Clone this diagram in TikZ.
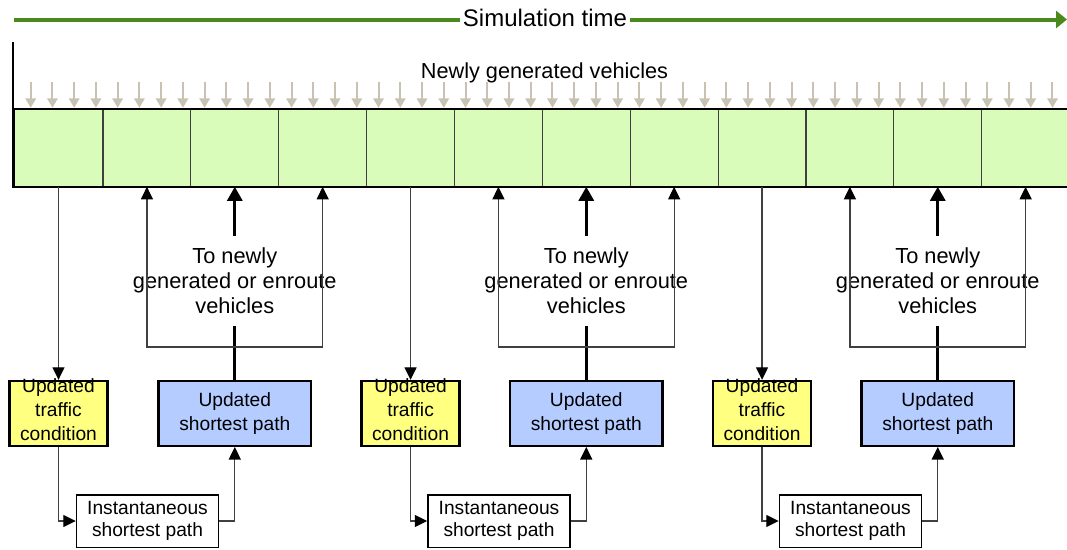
\documentclass[tikz,border=0pt]{standalone}
\usepackage{fontspec}
\setmainfont{Liberation Sans}
\usetikzlibrary{arrows.meta}

\definecolor{timegreen}{RGB}{74,138,28}
\definecolor{stripgreen}{RGB}{218,252,186}
\definecolor{condyellow}{RGB}{255,255,128}
\definecolor{pathblue}{RGB}{180,204,255}
\definecolor{arrowbeige}{RGB}{200,194,178}

\begin{document}
\begin{tikzpicture}[x=1pt,y=-1pt,
  cell/.style={fill=stripgreen, draw=black!75, line width=1.2pt, inner sep=0pt,
    minimum height=76.7pt},
  condbox/.style={fill=condyellow, draw=black, line width=2.4pt, inner sep=0pt,
    minimum width=98pt, minimum height=65pt},
  condtext/.style={inner sep=0pt, align=center,
    font=\fontsize{19.2}{24.3}\selectfont},
  spbox/.style={fill=pathblue, draw=black, line width=2.4pt, inner sep=0pt,
    minimum width=152.6pt, minimum height=64.6pt, align=center,
    font=\fontsize{19.2}{23.5}\selectfont},
  instbox/.style={fill=white, draw=black, line width=1.5pt, inner sep=0pt,
    minimum width=142pt, minimum height=52.5pt, align=center,
    font=\fontsize{19.2}{22.5}\selectfont},
  tolabel/.style={inner xsep=0pt, inner ysep=11.6pt, align=center,
    font=\fontsize{21.8}{25}\selectfont},
  thinarrow/.style={draw=black!75, line width=1.3pt,
    -{Triangle[width=12pt,length=12.5pt,color=black]}},
  thickline/.style={draw=black, line width=3pt},
  thickarrow/.style={draw=black, line width=3pt,
    -{Triangle[width=15pt,length=14pt]}},
  newarrow/.style={draw=arrowbeige, line width=2pt,
    -{Triangle[width=10.5pt,length=9.5pt]}},
  timeline/.style={draw=timegreen, line width=4pt,
    -{Triangle[width=17pt,length=11pt]}}
]
\useasboundingbox (0,0) rectangle (1067,549);
\clip (0,0) rectangle (1067,549);

% simulation time axis
\coordinate (tstart) at (14,19.5);
\coordinate (tend) at (1067,19.5);
\draw[timeline] (tstart) -- (tend);
\node[fill=white, inner xsep=3pt, inner ysep=2pt, anchor=base,
  font=\fontsize{24}{28}\selectfont] (simtime) at (545,26.7) {Simulation time};

% time-step strip
\node[cell, minimum width=89pt] (c1) at (58.5,147.85) {};
\foreach \k in {2,...,12}
  \node[cell, minimum width=87.87pt] (c\k) at ({103+87.87*(\k-2)+43.935},147.85) {};
\draw[line width=2.5pt, line cap=rect] (c12.north east) -- (c1.north west)
  -- (c1.south west) -- (c12.south east);
\draw[line width=2pt] (c1.north west) -- ++(0,-67);

% newly generated vehicles entering the network
\node[anchor=base, font=\fontsize{21.7}{26}\selectfont] (newveh) at (544.5,78.3)
  {Newly generated vehicles};
\foreach \i in {0,...,47}
  \draw[newarrow] ({30.7+21.74*\i},82) -- ({30.7+21.74*\i},107.8);

% update cycles
\foreach \g [evaluate=\g as \ca using int(4*\g+1),
             evaluate=\g as \cb using int(4*\g+2),
             evaluate=\g as \cc using int(4*\g+3),
             evaluate=\g as \cd using int(4*\g+4)] in {0,1,2} {
  \path (c\ca.center) ++(0,265.65) node[condbox] (y\g) {};
  \path (y\g.center) ++(0,-3.8) node[condtext] (yt\g) {Updated\\traffic\\condition};
  \path (c\cc.center) ++(0,265.65) node[spbox] (b\g) {Updated\\shortest path};
  \path (c\cb.center) ++(0.6,373.15) node[instbox] (i\g) {Instantaneous\\shortest path};
  \path (c\cc.center) ++(0,133.15) node[tolabel] (t\g)
    {To newly\\generated or enroute\\vehicles};
  \path (c\cc.center) ++(0,199.15) coordinate (j\g);
  \draw[thinarrow] (c\ca.south) -- (y\g.north);
  \draw[thinarrow] (y\g.south) |- (i\g.west);
  \draw[thinarrow] (i\g.east) -| (b\g.south);
  \draw[thickline] (b\g.north) -- (t\g.south);
  \draw[thickarrow] (t\g.north) -- (c\cc.south);
  \draw[thinarrow] (j\g) -| (c\cb.south);
  \draw[thinarrow] (j\g) -| (c\cd.south);
}
\end{tikzpicture}
\end{document}
